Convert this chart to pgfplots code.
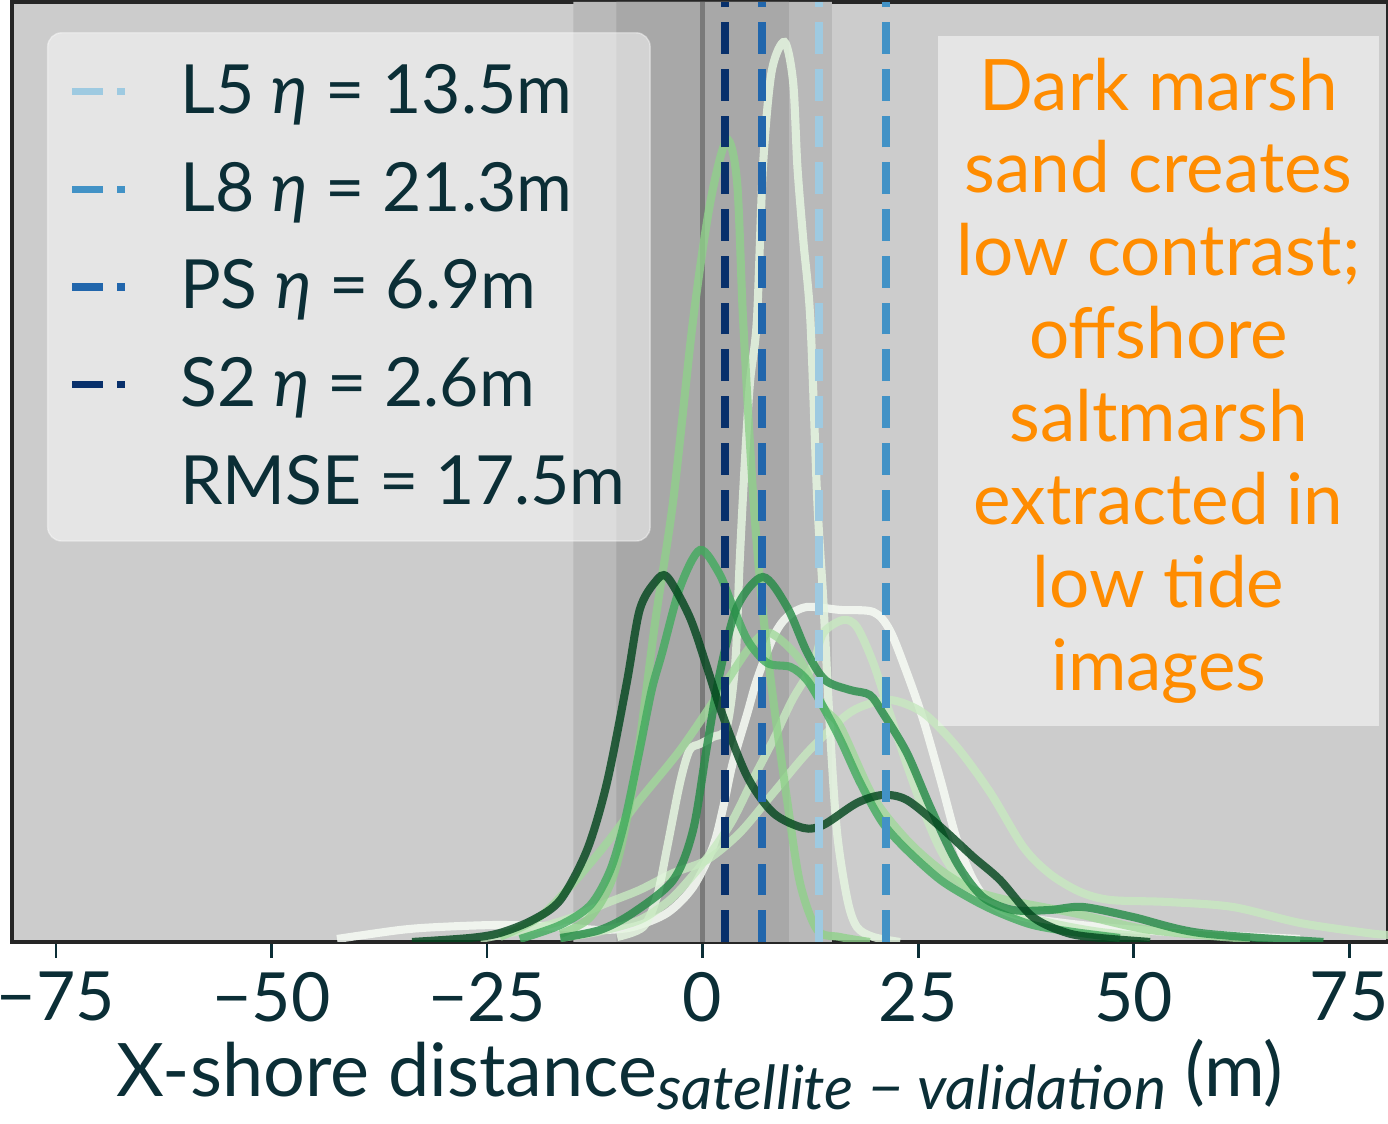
\documentclass[border=0pt]{standalone}
\usepackage{pgfplots}
\pgfplotsset{compat=1.18}
\usetikzlibrary{calc}
\usepackage{fontspec}
\setmainfont{Lato}
\definecolor{txt}{HTML}{0B2E36}
\definecolor{bgout}{HTML}{CCCCCC}
\definecolor{band15}{HTML}{B9B9B9}
\definecolor{band10}{HTML}{A8A8A8}
\definecolor{zeroln}{HTML}{7A7A7A}
\definecolor{gA}{HTML}{00441B}
\definecolor{gB}{HTML}{238B45}
\definecolor{gC}{HTML}{41AB5D}
\definecolor{gD}{HTML}{8FD18A}
\definecolor{gE}{HTML}{A1D99B}
\definecolor{gF}{HTML}{C7E9C0}
\definecolor{gG}{HTML}{E5F5E0}
\definecolor{gH}{HTML}{F7FCF5}
\definecolor{cL5}{HTML}{9ECAE1}
\definecolor{cL8}{HTML}{4292C6}
\definecolor{cPS}{HTML}{2166AC}
\definecolor{cS2}{HTML}{08306B}
\definecolor{note}{HTML}{FF8C00}

\begin{document}
\begin{tikzpicture}
\begin{axis}[
    scale only axis,
    width=13.76cm, height=9.4cm,
    xmin=-80.1, xmax=79.5,
    ymin=0, ymax=940,
    axis background/.style={fill=bgout},
    axis line style={draw=black!85, line width=1pt},
    xtick={-75,-50,-25,0,25,50,75},
    xticklabels={−75,−50,−25,0,25,50,75},
    ytick=\empty,
    xtick pos=bottom,
    tick align=outside,
    major tick length=4.5pt,
    every tick/.style={txt, line width=0.8pt},
    tick label style={font=\fontsize{19.3}{23}\selectfont, text=txt},
    xticklabel style={yshift=-0.5pt},
    xlabel={X-shore distance\raisebox{-3.6pt}{\fontsize{17.3}{19}\selectfont\itshape satellite − validation} (m)},
    xlabel style={font=\fontsize{21}{25}\selectfont, text=txt, yshift=1.8pt},
    legend cell align=left,
    legend image code/.code={%
        \draw[#1, draw opacity=1, line width=2.1pt, dash pattern=on 8.8pt off 4pt] (2pt,0pt) -- (17pt,0pt);
        \path[draw=none] (0pt,0pt) -- (30.7pt,0pt);},
    legend style={at={(0.0254,0.968)}, anchor=north west,
        fill=white, fill opacity=0.5, text opacity=1,
        draw=white, draw opacity=0.4, rounded corners=4pt,
        font=\fontsize{19.3}{23}\selectfont, text=txt,
        inner xsep=5pt, inner ysep=7pt, row sep=8.3pt},
]
% shaded tolerance bands
\addplot[fill=band15, draw=none, forget plot] coordinates {(-15,0) (-15,940) (15,940) (15,0)} \closedcycle;
\addplot[fill=band10, draw=none, forget plot] coordinates {(-10,0) (-10,940) (10,940) (10,0)} \closedcycle;
\addplot[zeroln, line width=1.4pt, forget plot] coordinates {(0,0) (0,940)};

% KDE curves
\addplot[gH, opacity=0.85, line width=2.3pt, smooth, forget plot] coordinates {
(-42.4,3) (-35.1,12) (-30.5,15) (-23.5,17) (-16.5,15) (-11.9,12) (-8.1,15) (-4.1,29)
(-1.1,55) (1.2,95) (2.4,135) (3.5,179) (5.2,229) (6.3,262) (8.2,305) (9.8,325)
(12.1,335) (16.0,332) (19.8,330) (21.7,312) (23.7,269) (25.6,222) (27.6,162)
(29.5,102) (31.4,62) (33.4,39) (37.2,25) (46.1,15) (57.7,8) (69.3,3)};
\addplot[gF, opacity=0.8, line width=2.3pt, smooth, forget plot] coordinates {
(-25.8,3) (-18.9,15) (-15.0,25) (-11.1,39) (-7.3,52) (-3.4,69) (0.5,82) (4.3,109)
(8.2,149) (12.1,189) (16.0,222) (18.3,235) (21.8,242) (25.6,229) (29.5,195)
(33.4,149) (37.2,95) (40.3,68) (43.8,50) (47.3,42) (53.9,40) (61.5,35) (69.3,19)
(77.1,9) (79.5,7)};
\addplot[gG, opacity=0.85, line width=2.3pt, smooth, forget plot] coordinates {
(-9.9,5) (-6.9,15) (-5.3,45) (-4.1,95) (-2.6,160) (-1.5,192) (-0.3,198) (1.2,205)
(2.8,215) (3.8,280) (4.3,380) (4.9,480) (5.5,560) (6.3,622) (7.0,775) (8.0,870)
(9.5,900) (10.5,860) (11.0,775) (11.7,700) (12.5,622) (13.3,442) (14.0,342)
(14.8,209) (15.6,109) (16.8,42) (17.9,15) (19.8,5) (22.9,0)};
\addplot[gF, opacity=0.8, line width=2.3pt, smooth, forget plot] coordinates {
(-16.5,4) (-12.2,10) (-7.3,22) (-3.8,42) (-1.1,67) (1.2,92) (3.5,122) (5.8,162)
(8.2,202) (10.4,242) (12.8,277) (14.0,309) (16.3,322) (17.9,315) (19.8,279)
(21.7,229) (23.7,177) (25.6,132) (27.6,92) (29.9,62) (32.8,42) (36.8,27)
(41.5,17) (46.1,10) (51.9,5)};
\addplot[gE, opacity=0.8, line width=2.3pt, smooth, forget plot] coordinates {
(-23.5,5) (-18.9,25) (-15.0,59) (-11.1,99) (-7.3,142) (-2.6,192) (2.0,250)
(5.5,295) (7.8,309) (11.3,282) (14.0,235) (16.0,215) (19.8,145) (23.7,102)
(27.6,72) (31.4,52) (35.3,42) (43.0,29) (51.9,12) (63.5,3)};
\addplot[gD, opacity=0.8, line width=2.3pt, smooth, forget plot] coordinates {
(-16.5,8) (-13.0,25) (-10.2,70) (-7.8,170) (-5.5,320) (-3.4,442) (-1.1,622)
(0.9,740) (2.8,802) (4.0,760) (4.7,622) (5.9,442) (7.0,330) (8.2,242) (9.8,142)
(11.3,59) (13.3,12) (15.9,5) (19.4,0)};
\addplot[gC, opacity=0.8, line width=2.3pt, smooth, forget plot] coordinates {
(-21.2,3) (-16.5,17) (-13.0,37) (-10.7,72) (-9.0,122) (-7.3,192) (-5.9,252)
(-4.7,289) (-2.6,355) (-0.3,392) (1.9,369) (3.2,342) (5.2,302) (7.5,279)
(10.2,275) (12.1,262) (14.0,235) (16.0,202) (18.3,159) (20.9,119) (23.7,92)
(27.6,62) (31.4,42) (34.5,29) (38.3,17) (43.0,10) (48.4,4)};
\addplot[gB, opacity=0.8, line width=2.3pt, smooth, forget plot] coordinates {
(-16.5,4) (-11.9,12) (-8.1,29) (-3.4,62) (-1.1,112) (0.5,195) (2.0,269)
(4.0,335) (7.0,365) (9.8,335) (12.1,290) (14.2,262) (17.1,252) (19.4,247)
(20.9,229) (23.7,189) (26.4,135) (29.5,79) (32.5,45) (36.0,32) (40.3,32)
(44.1,35) (49.9,25) (57.7,9) (72.0,0)};
\addplot[gA, opacity=0.8, line width=2.3pt, smooth, forget plot] coordinates {
(-33.7,0) (-27.0,4) (-23.5,9) (-19.7,22) (-16.5,42) (-13.4,92) (-11.1,159)
(-8.8,259) (-7.3,332) (-5.5,360) (-4.1,365) (-1.5,325) (0.5,275) (2.4,225)
(5.2,165) (8.2,129) (11.7,114) (14.0,117) (17.9,139) (20.9,147) (23.7,142)
(27.6,115) (31.4,85) (34.5,62) (38.3,25) (42.3,9) (46.1,4) (51.9,0)};

% median offsets
\addplot[cL5, line width=2.2pt, dash pattern=on 9pt off 4.3pt] coordinates {(13.5,0) (13.5,940)};
\addlegendentry{L5 {\itshape η} = 13.5m}
\addplot[cL8, line width=2.2pt, dash pattern=on 9pt off 4.3pt] coordinates {(21.3,0) (21.3,940)};
\addlegendentry{L8 {\itshape η} = 21.3m}
\addplot[cPS, line width=2.2pt, dash pattern=on 9pt off 4.3pt] coordinates {(6.9,0) (6.9,940)};
\addlegendentry{PS {\itshape η} = 6.9m}
\addplot[cS2, line width=2.2pt, dash pattern=on 9pt off 4.3pt] coordinates {(2.6,0) (2.6,940)};
\addlegendentry{S2 {\itshape η} = 2.6m}
\addlegendimage{empty legend}
\addlegendentry{RMSE = 17.5m}

\node[fill=white, fill opacity=0.5, text opacity=1, text=note, anchor=north,
      minimum width=4.41cm, minimum height=6.9cm, align=center,
      font=\fontsize{20.2}{23.6}\selectfont]
  at (axis cs:52.9,907) {Dark marsh\\sand creates\\low contrast;\\offshore\\saltmarsh\\extracted in\\low tide\\images};
\end{axis}
\pgfresetboundingbox
\path[use as bounding box] ($(current axis.south west)+(-0.12cm,-1.82cm)$) rectangle ($(current axis.north east)+(0,0.02cm)$);
\end{tikzpicture}
\end{document}
